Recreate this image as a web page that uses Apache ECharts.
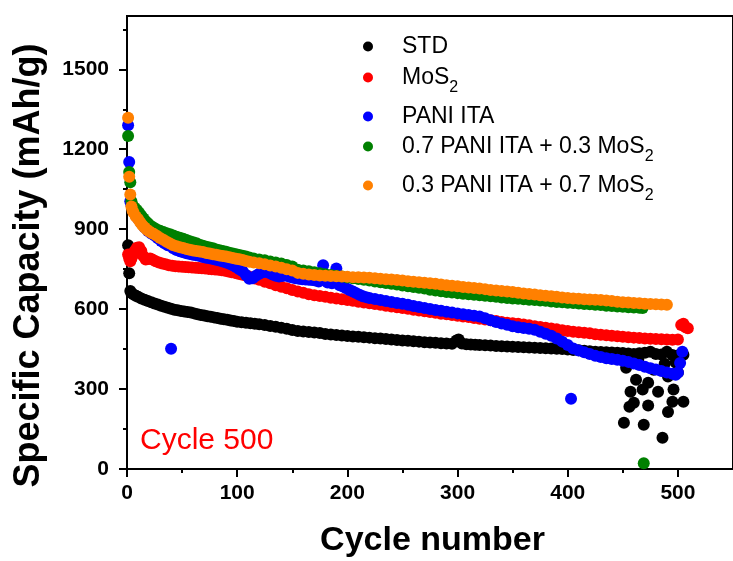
<!DOCTYPE html>
<html>
<head>
<meta charset="utf-8">
<script src="https://cdn.jsdelivr.net/npm/echarts@6/dist/echarts.min.js"></script>
<style>
html,body{margin:0;padding:0;background:#fff;}
#chart{width:733px;height:561px;}
</style>
</head>
<body>
<div id="chart"></div>
<script>
const seriesNames = ['STD', 'MoS2', 'PANI ITA', '0.7 PANI ITA + 0.3 MoS2', '0.3 PANI ITA + 0.7 MoS2'];
const seriesColors = ['#000000', '#ff0000', '#0000ff', '#008000', '#ff8000'];

const xMajorTicks = [0, 100, 200, 300, 400, 500];
const xMinorTicks = [50, 150, 250, 350, 450];
const yMajorTicks = [0, 300, 600, 900, 1200, 1500];
const yMinorTicks = [150, 450, 750, 1050, 1350, 1650];

// [cycle, specific capacity]
const stdData = [[1,840],[2,735],[3,668],[4,660],[6,655],[8,650],[10,646],[13,640],[16,635],[19,630],[22,626],[25,621],[28,617],[31,613],[34,609],[37,605],[40,601],[43,598],[46,596],[49,593],[52,591],[55,589],[58,587],[61,584],[64,581],[67,578],[70,576],[73,573],[76,571],[79,569],[82,567],[85,564],[88,562],[91,560],[94,557],[97,555],[100,553],[104,551],[108,549],[112,547],[116,545],[120,543],[125,540],[130,537],[135,534],[140,530],[145,526],[150,522],[155,518],[160,516],[165,514],[170,512],[175,510],[180,507],[185,505],[190,503],[195,501],[200,499],[205,497],[210,496],[215,494],[220,493],[225,491],[230,490],[235,488],[240,486],[245,484],[250,482],[255,481],[260,479],[265,478],[270,476],[275,475],[280,474],[285,472],[290,471],[295,470],[299,482],[301,486],[304,471],[308,468],[312,467],[316,466],[320,465],[325,464],[330,463],[335,462],[340,461],[345,460],[350,459],[355,458],[360,457],[365,456],[370,455],[375,454],[380,453],[385,452],[390,451],[395,450],[400,448],[405,447],[410,446],[415,444],[420,442],[425,440],[430,439],[435,438],[440,437],[445,436],[450,435],[455,433],[460,432],[465,434],[470,436],[475,440],[480,432],[485,430],[490,440],[495,428],[500,426],[505,429],
  [451,174],[453,380],[456,234],[457,290],[460,249],[462,335],[464,410],[468,298],[469,166],[473,238],[473,324],[478,372],[482,290],[486,117],[488,395],[491,214],[491,347],[495,252],[496,298],[498,400],[500,362],[505,252]];

const mos2Data = [[1,805],[2,790],[3,780],[4,790],[5,800],[7,818],[9,830],[11,832],[13,818],[15,798],[17,786],[19,788],[21,790],[23,786],[26,780],[29,775],[32,771],[35,768],[38,765],[41,763],[44,761],[47,760],[50,759],[53,758],[56,757],[59,756],[62,755],[65,754],[68,753],[71,752],[74,751],[77,750],[80,749],[83,748],[86,746],[89,744],[92,741],[95,738],[98,736],[101,733],[104,730],[107,727],[110,723],[113,719],[116,715],[120,710],[125,703],[130,697],[135,690],[140,684],[145,678],[150,672],[155,666],[160,661],[165,656],[170,652],[175,649],[180,646],[185,643],[190,640],[195,637],[200,634],[205,631],[210,628],[215,625],[220,622],[225,619],[230,616],[235,613],[240,610],[245,607],[250,604],[255,601],[260,598],[265,595],[270,592],[275,589],[280,586],[285,583],[290,581],[295,578],[300,575],[305,572],[310,570],[315,567],[320,564],[325,561],[330,558],[335,555],[340,552],[345,549],[350,547],[355,545],[360,542],[365,539],[370,536],[375,533],[380,530],[385,527],[390,524],[395,521],[400,518],[405,515],[410,513],[415,511],[420,509],[425,506],[430,504],[435,502],[440,500],[445,498],[450,496],[455,494],[460,493],[465,492],[470,490],[475,489],[480,488],[485,487],[490,486],[495,485],[500,486],[503,540],[505,545],[507,532],[509,528]];

const paniData = [[1,1290],[2,1152],[3,1005],[4,992],[5,980],[6,968],[8,952],[10,940],[13,922],[16,906],[19,893],[22,884],[25,876],[28,866],[31,856],[34,847],[37,840],[40,451],[42,828],[45,822],[48,817],[51,813],[54,810],[57,807],[60,804],[63,802],[66,799],[69,796],[72,793],[75,791],[78,788],[81,785],[84,782],[87,779],[90,775],[93,770],[96,765],[99,758],[102,750],[105,742],[108,728],[111,714],[114,716],[117,725],[120,733],[123,738],[126,740],[129,736],[132,730],[135,725],[138,722],[141,724],[144,726],[147,722],[150,719],[153,716],[156,714],[159,712],[162,711],[165,710],[168,709],[171,707],[174,704],[178,765],[182,700],[186,697],[190,752],[193,690],[196,685],[199,678],[202,672],[205,666],[208,660],[211,654],[214,648],[217,645],[220,642],[225,638],[230,634],[235,630],[240,627],[245,623],[250,620],[255,616],[260,612],[265,608],[270,604],[275,600],[280,597],[285,594],[290,590],[295,587],[300,584],[305,581],[310,578],[315,575],[320,572],[325,566],[330,558],[335,552],[340,546],[345,541],[350,536],[355,532],[360,529],[365,526],[370,523],[375,515],[380,508],[385,500],[390,490],[395,478],[400,465],[403,264],[405,452],[410,445],[415,438],[420,432],[425,425],[430,420],[435,416],[440,413],[445,410],[450,406],[455,402],[460,396],[465,390],[470,384],[475,378],[480,373],[485,368],[490,362],[495,357],[498,354],[500,362],[502,398],[504,440]];

const mix73Data = [[1,1250],[2,1115],[3,1076],[4,1005],[5,990],[7,980],[9,972],[11,962],[13,950],[15,940],[17,930],[19,922],[21,914],[24,906],[27,899],[30,894],[33,889],[36,885],[39,881],[42,876],[45,872],[48,868],[51,864],[54,859],[57,855],[60,851],[63,847],[66,842],[69,838],[72,834],[75,831],[78,828],[81,824],[84,821],[87,818],[90,815],[93,812],[96,809],[99,806],[102,803],[105,800],[108,797],[111,794],[115,790],[120,786],[125,783],[130,779],[135,775],[140,771],[145,766],[150,760],[155,748],[160,745],[165,742],[170,738],[175,735],[180,731],[185,728],[190,725],[195,722],[200,719],[205,716],[210,713],[215,710],[220,707],[225,704],[230,701],[235,698],[240,695],[245,692],[250,689],[255,686],[260,683],[265,680],[270,677],[275,673],[280,670],[285,667],[290,664],[295,662],[300,660],[305,658],[310,656],[315,654],[320,652],[325,650],[330,648],[335,646],[340,644],[345,642],[350,640],[355,639],[360,637],[365,635],[370,634],[375,632],[380,631],[385,629],[390,627],[395,626],[400,624],[405,623],[410,621],[415,619],[420,618],[425,616],[430,615],[435,613],[440,612],[445,610],[450,609],[455,607],[460,606],[465,605],[468,604],[469,22]];

const mix37Data = [[1,1318],[2,1097],[3,1030],[4,985],[5,970],[6,962],[8,948],[10,938],[12,926],[14,915],[16,906],[18,898],[20,892],[22,887],[24,883],[27,875],[30,867],[33,860],[36,853],[39,846],[42,840],[45,836],[48,832],[51,829],[54,826],[57,823],[60,820],[63,818],[66,816],[69,814],[72,811],[75,809],[78,806],[81,804],[84,801],[87,799],[90,797],[93,795],[96,792],[99,789],[102,787],[105,784],[108,781],[111,778],[115,775],[120,772],[125,768],[130,764],[135,760],[140,755],[145,750],[150,745],[155,736],[160,733],[165,730],[170,728],[175,726],[180,725],[185,724],[190,723],[195,722],[200,721],[205,720],[210,720],[215,719],[220,718],[225,716],[230,714],[235,712],[240,711],[245,709],[250,707],[255,705],[260,703],[265,701],[270,699],[275,697],[280,695],[285,692],[290,690],[295,688],[300,686],[305,683],[310,681],[315,679],[320,677],[325,675],[330,672],[335,670],[340,668],[345,666],[350,664],[355,661],[360,659],[365,657],[370,655],[375,652],[380,650],[385,648],[390,646],[395,644],[400,642],[405,640],[410,639],[415,637],[420,636],[425,635],[430,634],[435,632],[440,630],[445,628],[450,626],[455,625],[460,623],[465,622],[470,620],[475,619],[480,618],[485,617],[490,616]];

const allData = [stdData, mos2Data, paniData, mix73Data, mix37Data];
const legendTops = [35, 66, 105, 135, 174];

const FONT = '"Liberation Sans", Arial, sans-serif';

function legendFormatter(name) {
  if (/S2$/.test(name)) {
    return '{n|' + name.slice(0, -1) + '}{s|2}';
  }
  return '{n|' + name + '}';
}

const chart = echarts.init(document.getElementById('chart'), null, {renderer: 'canvas'});

const axisLabelStyle = {fontFamily: FONT, fontSize: 21, fontWeight: 'bold', color: '#000', formatter: v => String(v)};

const option = {
  animation: false,
  backgroundColor: '#fff',
  grid: {left: 127, top: 16, right: -5, bottom: 92, show: true, borderColor: '#000', borderWidth: 2, backgroundColor: 'transparent'},
  legend: seriesNames.map((n, i) => ({
    data: [n],
    orient: 'vertical',
    left: 363,
    top: legendTops[i],
    padding: 0,
    icon: 'circle',
    itemWidth: 10,
    itemHeight: 10,
    selectedMode: false,
    formatter: legendFormatter,
    textStyle: {
      color: '#000',
      fontFamily: FONT,
      fontSize: 23,
      rich: {
        n: {fontFamily: FONT, fontSize: 23, color: '#000', padding: [0, 0, 0, 24]},
        s: {fontFamily: FONT, fontSize: 16, color: '#000', padding: [20, 0, 0, 0]}
      }
    }
  })),
  xAxis: [
    {
      type: 'value', min: 0, max: 550, position: 'bottom',
      axisLine: {show: true, onZero: false, lineStyle: {color: '#000', width: 2}},
      axisTick: {show: true, inside: false, length: 8, lineStyle: {color: '#000', width: 2}, customValues: xMajorTicks},
      axisLabel: Object.assign({customValues: xMajorTicks, margin: 14}, axisLabelStyle),
      splitLine: {show: false}
    },
    {
      type: 'value', min: 0, max: 550, position: 'bottom',
      axisLine: {show: false, onZero: false},
      axisTick: {show: true, inside: false, length: 4, lineStyle: {color: '#000', width: 2}, customValues: xMinorTicks},
      axisLabel: {show: false},
      splitLine: {show: false}
    }
  ],
  yAxis: [
    {
      type: 'value', min: 0, max: 1700, position: 'left',
      axisLine: {show: true, onZero: false, lineStyle: {color: '#000', width: 2}},
      axisTick: {show: true, inside: false, length: 8, lineStyle: {color: '#000', width: 2}, customValues: yMajorTicks},
      axisLabel: Object.assign({customValues: yMajorTicks, margin: 18}, axisLabelStyle),
      splitLine: {show: false}
    },
    {
      type: 'value', min: 0, max: 1700, position: 'left',
      axisLine: {show: false, onZero: false},
      axisTick: {show: true, inside: false, length: 4, lineStyle: {color: '#000', width: 2}, customValues: yMinorTicks},
      axisLabel: {show: false},
      splitLine: {show: false}
    }
  ],
  graphic: [
    {type: 'text', x: 432.5, y: 541, style: {text: 'Cycle number', font: 'bold 34px ' + FONT, fill: '#000', textAlign: 'center', textVerticalAlign: 'middle'}},
    {type: 'text', x: 29.5, y: 265.5, rotation: Math.PI / 2, style: {text: 'Specific Capacity (mAh/g)', font: 'bold 36px ' + FONT, fill: '#000', textAlign: 'center', textVerticalAlign: 'middle'}},
    {type: 'text', x: 140, y: 441, style: {text: 'Cycle 500', font: '30px ' + FONT, fill: '#ff0000', textAlign: 'left', textVerticalAlign: 'middle'}}
  ],
  series: seriesNames.map((n, i) => ({
    name: n,
    type: 'scatter',
    xAxisIndex: 0,
    yAxisIndex: 0,
    symbol: 'circle',
    symbolSize: 12,
    itemStyle: {color: seriesColors[i], opacity: 1},
    emphasis: {disabled: true},
    data: allData[i]
  }))
};

chart.setOption(option);
</script>
</body>
</html>
